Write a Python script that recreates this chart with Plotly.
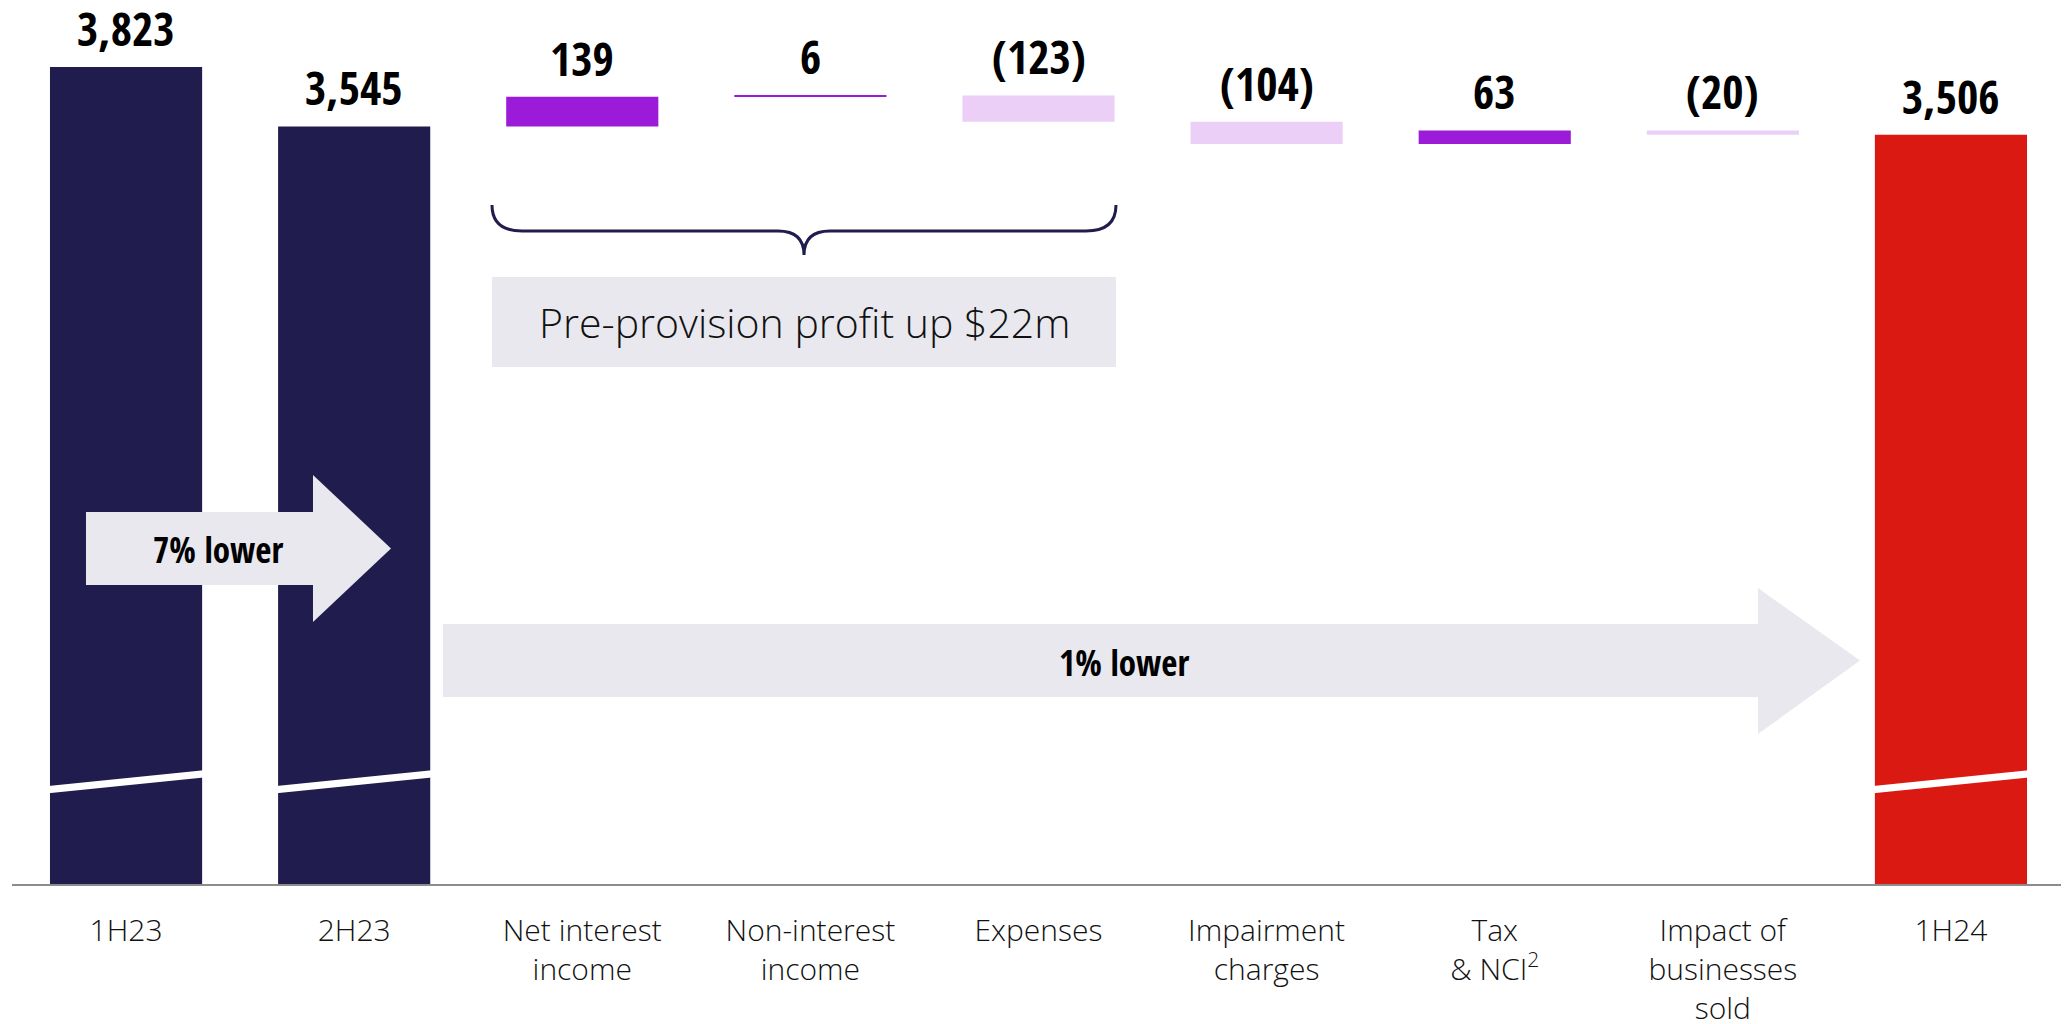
import plotly.graph_objects as go

# ---------------- data ----------------
categories = ["1H23", "2H23", "Net interest income", "Non-interest income", "Expenses",
              "Impairment charges", "Tax & NCI", "Impact of businesses sold", "1H24"]
tick_labels = ["1H23", "2H23", "Net interest<br>income", "Non-interest<br>income", "Expenses",
               "Impairment<br>charges", "Tax<br>& NCI<sup>2</sup>", "Impact of<br>businesses<br>sold", "1H24"]
values = [3823, 3545, 139, 6, -123, -104, 63, -20, 3506]
measures = ["total", "total", "relative", "relative", "relative", "relative", "relative", "relative", "total"]
value_labels = ["3,823", "3,545", "139", "6", "(123)", "(104)", "63", "(20)", "3,506"]
arrow_texts = ["7% lower", "1% lower"]
box_text = "Pre-provision profit up $22m"

# ---------------- styling ----------------
NAVY = "#201D4E"
PURPLE = "#9B1BD9"
LAVENDER = "#ECCFF7"
RED = "#DA1A12"
GREY = "#E8E8EE"
OFF = 8  # page body margin
W, H = 2069 - OFF, 1024 - OFF
ML, MR, MT = 12 - OFF, 4, 0
BASE_Y = 884 - OFF          # baseline in figure px
MB = H - BASE_Y
PX_PER_UNIT = 0.2137
YMAX = (BASE_Y - MT) / PX_PER_UNIT
BAR_W = 0.667
N = len(categories)
COND = "Open Sans Condensed, Roboto Condensed, DejaVu Sans Condensed, sans-serif"

bases, heights, colors, tops = [], [], [], []
running = 0
for i, (v, m) in enumerate(zip(values, measures)):
    if m == "total":
        base, h = 0, v
        running = v
        col = RED if i == N - 1 else NAVY
    else:
        base, h = running, v
        running += v
        col = PURPLE if v >= 0 else LAVENDER
    bases.append(base)
    heights.append(h)
    colors.append(col)
    tops.append(max(base, base + h))

fig = go.Figure()
fig.add_trace(go.Bar(
    x=categories, y=heights, base=bases, width=BAR_W,
    marker=dict(color=colors, line=dict(width=0)),
    hoverinfo="skip", showlegend=False,
))

VAL_FONT = dict(family=COND, size=46, color="#000000", weight=800)
annotations = []
for c, t, lab in zip(categories, tops, value_labels):
    annotations.append(dict(x=c, y=t, xref="x", yref="y", text=lab, showarrow=False,
                            yanchor="middle", yshift=39, font=VAL_FONT))

PW = W - ML - MR
PH = BASE_Y - MT
def px(x):
    return (x - OFF - ML) / PW
def py(y):
    return (BASE_Y - (y - OFF)) / PH
def poly(points):
    return "M " + " L ".join(f"{px(x):.5f},{py(y):.5f}" for x, y in points) + " Z"

shapes = []
# white slanted "axis break" stripes on the total bars
for i in [0, 1, N - 1]:
    x0 = (i + 0.5 - BAR_W / 2) / N - 0.002
    x1 = (i + 0.5 + BAR_W / 2) / N + 0.002
    yl, yr, th = 440 / YMAX, 517 / YMAX, 17 / YMAX
    path = f"M {x0:.5f},{yl-th:.5f} L {x1:.5f},{yr-th:.5f} L {x1:.5f},{yr+th:.5f} L {x0:.5f},{yl+th:.5f} Z"
    shapes.append(dict(type="path", xref="paper", yref="paper", path=path,
                       fillcolor="white", line=dict(width=0), layer="above"))

def arrow(x0, xb, xt, yt, yb, hy0, hy1):
    ym = (yt + yb) / 2
    return poly([(x0, yt), (xb, yt), (xb, hy0), (xt, ym), (xb, hy1), (xb, yb), (x0, yb)])

shapes.append(dict(type="path", xref="paper", yref="paper",
                   path=arrow(86, 313, 391, 512, 585, 475, 622),
                   fillcolor=GREY, line=dict(width=0), layer="above"))
shapes.append(dict(type="path", xref="paper", yref="paper",
                   path=arrow(443, 1758, 1860, 624, 697, 588, 734),
                   fillcolor=GREY, line=dict(width=0), layer="above"))

ARW_FONT = dict(family=COND, size=35, color="#000000", weight=800)
annotations.append(dict(x=px(218), y=py(549), xref="paper", yref="paper", text=arrow_texts[0],
                        xanchor="center", yanchor="middle", showarrow=False, font=ARW_FONT))
annotations.append(dict(x=px(1124), y=py(662), xref="paper", yref="paper", text=arrow_texts[1],
                        xanchor="center", yanchor="middle", showarrow=False, font=ARW_FONT))

# brace
L, R, C = 492, 1116, 804
top, mid, tip = 205, 231, 255
def P(x, y):
    return f"{px(x):.5f},{py(y):.5f}"
brace = (f"M {P(L, top)} Q {P(L, mid)} {P(L+30, mid)} L {P(C-26, mid)} "
         f"Q {P(C, mid)} {P(C, tip)} Q {P(C, mid)} {P(C+26, mid)} "
         f"L {P(R-30, mid)} Q {P(R, mid)} {P(R, top)}")
shapes.append(dict(type="path", xref="paper", yref="paper", path=brace,
                   line=dict(color=NAVY, width=3), fillcolor="rgba(0,0,0,0)"))

# grey box
shapes.append(dict(type="rect", xref="paper", yref="paper",
                   x0=px(492), x1=px(1116), y0=py(367), y1=py(277),
                   fillcolor=GREY, line=dict(width=0), layer="below"))
annotations.append(dict(x=px(804), y=py(322), xref="paper", yref="paper", text=box_text,
                        xanchor="center", yanchor="middle", showarrow=False,
                        font=dict(family="Open Sans, Noto Sans, sans-serif", size=41,
                                  color="#111111", weight=300)))

fig.update_layout(
    width=W, height=H,
    margin=dict(l=ML, r=MR, t=MT, b=MB, pad=0, autoexpand=False),
    paper_bgcolor="white", plot_bgcolor="rgba(0,0,0,0)",
    bargap=0.333,
    shapes=shapes, annotations=annotations,
    showlegend=False,
    xaxis=dict(type="category", tickvals=categories, ticktext=tick_labels,
               showline=True, linecolor="#8c8c8c", linewidth=2, showgrid=False,
               ticks="", ticklabelstandoff=19, fixedrange=True, automargin=False,
               tickfont=dict(family="Open Sans, Noto Sans, sans-serif", size=30,
                             color="#111111", weight=300)),
    yaxis=dict(range=[0, YMAX], visible=False, showgrid=False, zeroline=False,
               fixedrange=True, automargin=False),
)

fig.write_html("out.html")
